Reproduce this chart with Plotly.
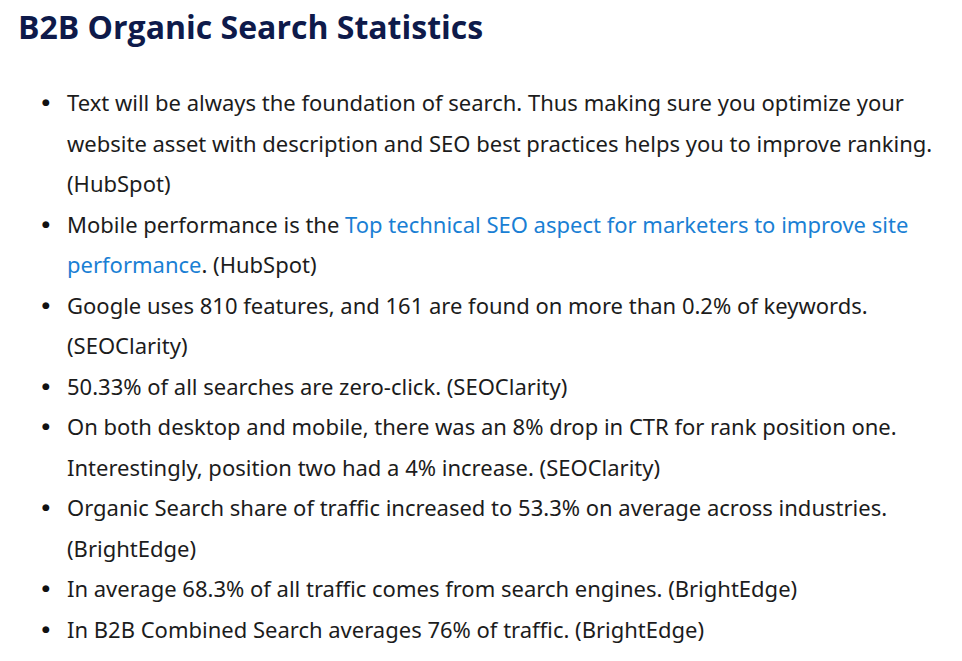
import plotly.graph_objects as go

title = "B2B Organic Search Statistics"
LINK = "#1a7fd4"
bullets = [
    ["Text will be always the foundation of search. Thus making sure you optimize your",
     "website asset with description and SEO best practices helps you to improve ranking.",
     "(HubSpot)"],
    ["Mobile performance is the <span style='color:%s'>Top technical SEO aspect for marketers to improve site</span>" % LINK,
     "<span style='color:%s'>performance</span>. (HubSpot)" % LINK],
    ["Google uses 810 features, and 161 are found on more than 0.2% of keywords.",
     "(SEOClarity)"],
    ["50.33% of all searches are zero-click. (SEOClarity)"],
    ["On both desktop and mobile, there was an 8% drop in CTR for rank position one.",
     "Interestingly, position two had a 4% increase. (SEOClarity)"],
    ["Organic Search share of traffic increased to 53.3% on average across industries.",
     "(BrightEdge)"],
    ["In average 68.3% of all traffic comes from search engines. (BrightEdge)"],
    ["In B2B Combined Search averages 76% of traffic. (BrightEdge)"],
]

W, H = 962, 661
first_line_y = 94
line_h = 40.5
text_x = 57
bullet_x = 38

fig = go.Figure()
ann = [dict(x=8, y=18, text="<b>" + title + "</b>", xanchor="left", yanchor="middle",
            showarrow=False, font=dict(family="Open Sans", size=32, color="#0e1a4a"))]
i = 0
for b in bullets:
    ann.append(dict(x=bullet_x, y=first_line_y + i * line_h, text="●", xanchor="center",
                    yanchor="middle", showarrow=False,
                    font=dict(family="DejaVu Sans", size=9, color="#111111")))
    for line in b:
        ann.append(dict(x=text_x, y=first_line_y + i * line_h, text=line, xanchor="left",
                        yanchor="middle", showarrow=False,
                        font=dict(family="Noto Sans", size=22, color="#1c1c1c")))
        i += 1

fig.update_layout(
    width=W, height=H, margin=dict(l=0, r=0, t=0, b=0),
    paper_bgcolor="white", plot_bgcolor="white",
    xaxis=dict(range=[0, W], visible=False, fixedrange=True),
    yaxis=dict(range=[H, 0], visible=False, fixedrange=True),
    annotations=ann, showlegend=False,
)
fig.write_html("out.html")
